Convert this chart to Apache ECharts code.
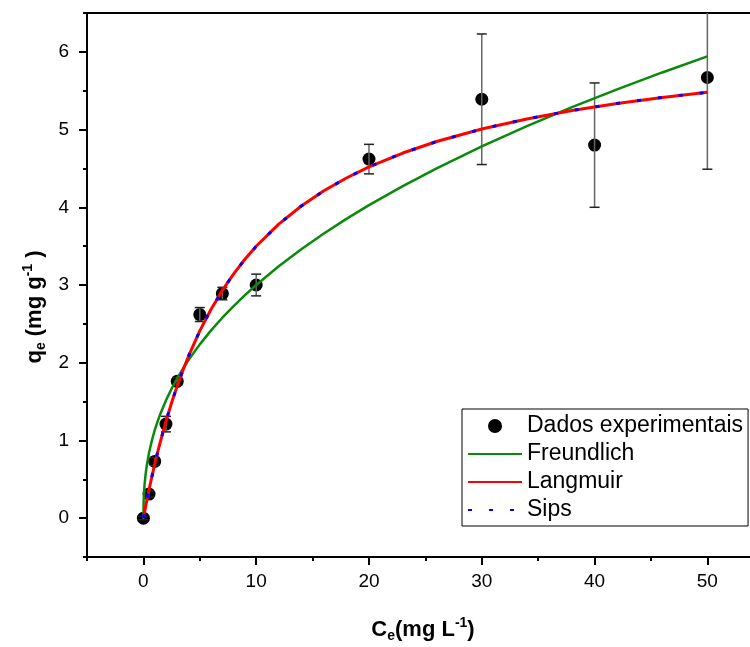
<!DOCTYPE html>
<html><head><meta charset="utf-8">
<script src="https://cdn.jsdelivr.net/npm/echarts@6/dist/echarts.min.js"></script>
<style>html,body{margin:0;padding:0;background:#fff}#c{width:750px;height:647px}</style>
</head><body><div id="c"></div>
<script>
// Experimental data
const ceValues = [0, 0.5, 1, 2, 3, 5, 7, 10, 20, 30, 40, 50];
const qeValues = [0, 0.31, 0.73, 1.21, 1.76, 2.62, 2.89, 3.00, 4.62, 5.39, 4.80, 5.67];
const qeErrors = [0.02, 0.04, 0.05, 0.10, 0.05, 0.09, 0.08, 0.14, 0.19, 0.84, 0.80, 1.18];
// Fitted curves
const curveC = [0, 0.02, 0.05, 0.1, 0.2, 0.3, 0.5, 0.75, 1, 1.25, 1.5, 2, 2.5, 3, 3.5, 4, 5, 6, 7, 8, 9, 10, 12, 14, 16, 18, 20, 23, 26, 30, 34, 38, 42, 46, 50];
const freundlichQ = [0, 0.215, 0.317, 0.425, 0.570, 0.677, 0.841, 0.999, 1.129, 1.241, 1.341, 1.515, 1.666, 1.800, 1.922, 2.034, 2.236, 2.416, 2.579, 2.729, 2.869, 3.000, 3.242, 3.461, 3.663, 3.851, 4.027, 4.273, 4.502, 4.784, 5.045, 5.289, 5.518, 5.735, 5.942];
const langmuirQ = [0, 0.015, 0.038, 0.076, 0.151, 0.224, 0.365, 0.532, 0.690, 0.840, 0.982, 1.246, 1.485, 1.702, 1.901, 2.084, 2.409, 2.688, 2.930, 3.143, 3.331, 3.498, 3.783, 4.017, 4.212, 4.377, 4.520, 4.698, 4.846, 5.007, 5.137, 5.245, 5.336, 5.413, 5.480];
const sipsQ = [0, 0.015, 0.038, 0.076, 0.151, 0.224, 0.365, 0.532, 0.690, 0.840, 0.982, 1.246, 1.485, 1.702, 1.901, 2.084, 2.409, 2.688, 2.930, 3.143, 3.331, 3.498, 3.783, 4.017, 4.212, 4.377, 4.520, 4.698, 4.846, 5.007, 5.137, 5.245, 5.336, 5.413, 5.480];
// Axis ticks
const xMajorTicks = [0, 10, 20, 30, 40, 50];
const xMinorTicks = [-5, 5, 15, 25, 35, 45];
const yMajorTicks = [0, 1, 2, 3, 4, 5, 6];
const yMinorTicks = [-0.5, 0.5, 1.5, 2.5, 3.5, 4.5, 5.5, 6.5];
const seriesNames = ['Dados experimentais', 'Freundlich', 'Langmuir', 'Sips'];

const FONT = "'Liberation Sans', Arial, sans-serif";
const XMIN = -5, XMAX = 53.78, YMIN = -0.5, YMAX = 6.5;
const gridRect = {left: 87, right: 0, top: 13, bottom: 90};
const axisLineStyle = {color: '#000', width: 2};

const chart = echarts.init(document.getElementById('c'), null, {renderer: 'canvas'});
const zip = (a, b) => a.map((v, i) => [v, b[i]]);
const hiddenSymbol = {color: 'rgba(0,0,0,0)', borderWidth: 0, opacity: 0};

const titleRich = {
  b: {fontSize: 22, fontWeight: 'bold', fontFamily: FONT, fill: '#000'},
  s: {fontSize: 14, fontWeight: 'bold', fontFamily: FONT, fill: '#000', padding: [13, 0, 0, 0]},
  p: {fontSize: 14, fontWeight: 'bold', fontFamily: FONT, fill: '#000', padding: [0, 0, 13, 0]}
};

const option = {
  animation: false,
  backgroundColor: '#fff',
  grid: [Object.assign({}, gridRect), Object.assign({}, gridRect)],
  xAxis: [
    {gridIndex: 0, type: 'value', position: 'bottom', min: XMIN, max: XMAX, interval: 5,
     axisLine: {show: true, onZero: false, lineStyle: axisLineStyle},
     axisTick: {show: true, customValues: xMajorTicks, length: 8, lineStyle: {color: '#000', width: 2}},
     axisLabel: {show: true, customValues: xMajorTicks, fontSize: 19, color: '#000', fontFamily: FONT, margin: 15},
     splitLine: {show: false}},
    {gridIndex: 0, type: 'value', position: 'top', min: XMIN, max: XMAX, interval: 5,
     axisLine: {show: true, onZero: false, lineStyle: axisLineStyle},
     axisTick: {show: false}, axisLabel: {show: false}, splitLine: {show: false}},
    {gridIndex: 1, type: 'value', position: 'bottom', min: XMIN, max: XMAX, interval: 5,
     axisLine: {show: false, onZero: false},
     axisTick: {show: true, customValues: xMinorTicks, length: 4, lineStyle: {color: '#000', width: 2}},
     axisLabel: {show: false}, splitLine: {show: false}}
  ],
  yAxis: [
    {gridIndex: 0, type: 'value', min: YMIN, max: YMAX, interval: 0.5,
     axisLine: {show: true, onZero: false, lineStyle: axisLineStyle},
     axisTick: {show: true, customValues: yMajorTicks, length: 8, lineStyle: {color: '#000', width: 2}},
     axisLabel: {show: true, customValues: yMajorTicks, fontSize: 19, color: '#000', fontFamily: FONT, margin: 18},
     splitLine: {show: false}},
    {gridIndex: 1, type: 'value', min: YMIN, max: YMAX, interval: 0.5,
     axisLine: {show: false, onZero: false},
     axisTick: {show: true, customValues: yMinorTicks, length: 4, lineStyle: {color: '#000', width: 2}},
     axisLabel: {show: false}, splitLine: {show: false}}
  ],
  legend: {
    orient: 'vertical', left: 462, top: 409,
    padding: [5, 5, 4, 5], itemGap: 4, itemWidth: 54, itemHeight: 14,
    borderColor: '#000', borderWidth: 1, borderRadius: 0, backgroundColor: '#fff',
    textStyle: {fontSize: 23, color: '#000', fontFamily: FONT, lineHeight: 24},
    data: [
      {name: seriesNames[0]},
      {name: seriesNames[1], itemStyle: hiddenSymbol},
      {name: seriesNames[2], itemStyle: hiddenSymbol},
      {name: seriesNames[3], itemStyle: hiddenSymbol}
    ]
  },
  graphic: [
    {type: 'text', x: 423, y: 630, z: 100,
     style: {text: '{b|C}{s|e}{b|(mg L}{p|-1}{b|)}', align: 'center', verticalAlign: 'middle', rich: titleRich}},
    {type: 'text', x: 35, y: 307, rotation: Math.PI / 2, z: 100,
     style: {text: '{b|q}{s|e}{b| (mg g}{p|-1}{b| )}', align: 'center', verticalAlign: 'middle', rich: titleRich}}
  ],
  series: [
    {name: seriesNames[0], type: 'scatter', xAxisIndex: 0, yAxisIndex: 0, z: 2,
     symbol: 'circle', symbolSize: 13, itemStyle: {color: '#000', opacity: 1},
     data: zip(ceValues, qeValues)},
    {name: 'err', type: 'custom', xAxisIndex: 0, yAxisIndex: 0, z: 3, clip: true,
     data: ceValues.map((c, i) => [c, qeValues[i], qeErrors[i]]),
     renderItem: function (params, api) {
       const x = api.value(0), y = api.value(1), e = api.value(2);
       const t = api.coord([x, y + e]), b = api.coord([x, y - e]);
       const hw = 5;
       return {type: 'group', children: [
         {type: 'line', shape: {x1: t[0], y1: t[1], x2: b[0], y2: b[1]}, style: {stroke: '#666', lineWidth: 1.5}},
         {type: 'line', shape: {x1: t[0] - hw, y1: t[1], x2: t[0] + hw, y2: t[1]}, style: {stroke: '#222', lineWidth: 1.5}},
         {type: 'line', shape: {x1: b[0] - hw, y1: b[1], x2: b[0] + hw, y2: b[1]}, style: {stroke: '#222', lineWidth: 1.5}}
       ]};
     }},
    {name: seriesNames[1], type: 'line', xAxisIndex: 0, yAxisIndex: 0, z: 4,
     showSymbol: false, symbol: 'none', smooth: false,
     lineStyle: {color: '#0a8a0a', width: 2.5}, itemStyle: {color: '#0a8a0a'},
     data: zip(curveC, freundlichQ)},
    {name: seriesNames[2], type: 'line', xAxisIndex: 0, yAxisIndex: 0, z: 5,
     showSymbol: false, symbol: 'none', smooth: false,
     lineStyle: {color: '#ff0000', width: 3}, itemStyle: {color: '#ff0000'},
     data: zip(curveC, langmuirQ)},
    {name: seriesNames[3], type: 'line', xAxisIndex: 0, yAxisIndex: 0, z: 6,
     showSymbol: false, symbol: 'none', smooth: false,
     lineStyle: {color: '#0000ff', width: 3, type: [4, 17], cap: 'butt'}, itemStyle: {color: '#0000ff'},
     data: zip(curveC, sipsQ)}
  ]
};
chart.setOption(option);
</script></body></html>
